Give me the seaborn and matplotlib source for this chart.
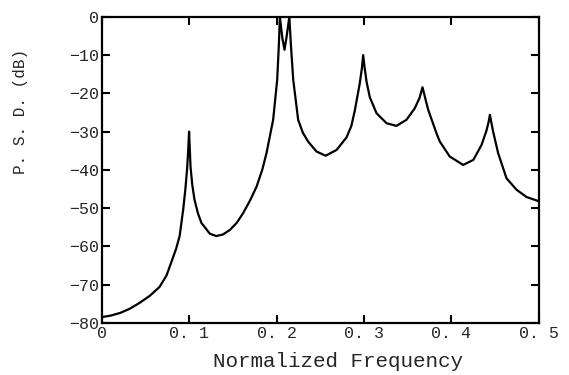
import matplotlib
matplotlib.use("Agg")
import matplotlib.pyplot as plt
import pandas as pd
import seaborn as sns

# values
freq = [0.000, 0.010, 0.021, 0.032, 0.043, 0.055, 0.066, 0.074, 0.0797, 0.085,
        0.089, 0.093, 0.0955, 0.0976, 0.099, 0.0998, 0.1006, 0.1015, 0.1035, 0.106,
        0.110, 0.114, 0.1236, 0.131, 0.1385, 0.1465, 0.1545, 0.1617, 0.170, 0.177,
        0.1835, 0.1884, 0.196, 0.2006, 0.2025, 0.2037, 0.2065, 0.209, 0.2115, 0.2145,
        0.2165, 0.219, 0.2246, 0.230, 0.236, 0.2456, 0.256, 0.2685, 0.280, 0.2855,
        0.2895, 0.295, 0.2975, 0.299, 0.3005, 0.3029, 0.3066, 0.3143, 0.3257, 0.337,
        0.3486, 0.358, 0.3635, 0.3669, 0.3695, 0.3734, 0.383, 0.3867, 0.398, 0.4134,
        0.425, 0.4344, 0.440, 0.4425, 0.444, 0.4455, 0.4477, 0.4534, 0.463, 0.4745,
        0.486, 0.500]
psd = [-78.5, -78.1, -77.4, -76.3, -74.8, -72.9, -70.6, -67.6, -64.0, -60.6,
       -57.3, -50.5, -45.2, -39.6, -34.0, -30.0, -34.5, -39.3, -44.0, -47.8,
       -51.4, -53.9, -56.7, -57.3, -56.9, -55.7, -53.8, -51.3, -47.8, -44.4,
       -40.0, -35.6, -26.9, -16.5, -7.5, 0.0, -5.5, -8.6, -5.0, 0.0,
       -8.0, -16.5, -26.9, -30.3, -32.6, -35.2, -36.3, -34.8, -31.5, -28.5,
       -24.4, -17.5, -13.5, -10.0, -13.0, -17.0, -21.0, -25.2, -27.8, -28.5,
       -26.9, -23.9, -21.2, -18.4, -20.8, -24.3, -30.5, -32.6, -36.5, -38.7,
       -37.4, -33.5, -29.8, -27.5, -25.6, -27.4, -30.0, -35.6, -42.2, -45.2,
       -47.1, -48.2]

x_ticks = [0.0, 0.1, 0.2, 0.3, 0.4, 0.5]
x_labels = ["0", "0. 1", "0. 2", "0. 3", "0. 4", "0. 5"]
y_ticks = [0, -10, -20, -30, -40, -50, -60, -70, -80]
y_labels = ["0", "\u221210", "\u221220", "\u221230", "\u221240", "\u221250",
            "\u221260", "\u221270", "\u221280"]

sns.set_style("ticks")
plt.rcParams["font.family"] = ["Liberation Mono", "DejaVu Sans"]

df = pd.DataFrame({"freq": freq, "psd": psd})

fig = plt.figure(figsize=(5.69, 3.75), dpi=100)
ax = fig.add_axes([0.179, 0.139, 0.768, 0.816])
sns.lineplot(data=df, x="freq", y="psd", ax=ax, color="black", linewidth=1.6,
             sort=False)

ax.set_xlim(0, 0.5)
ax.set_ylim(-80, 0)
ax.set_xticks(x_ticks)
ax.set_xticklabels(x_labels, fontsize=12)
ax.set_yticks(y_ticks)
ax.set_yticklabels(y_labels, fontsize=12)
ax.tick_params(direction="in", length=6, width=1.5, top=True, right=True,
               color="black", pad=2)
for s in ax.spines.values():
    s.set_linewidth(1.6)
    s.set_color("black")

ax.set_xlabel("Normalized Frequency", fontsize=15)
ax.xaxis.set_label_coords(0.54, -0.095)
ax.set_ylabel("P. S. D. (dB)", fontsize=11.5)
ax.yaxis.set_label_coords(-0.17, 0.69)

fig.savefig("out.png", dpi=100)
